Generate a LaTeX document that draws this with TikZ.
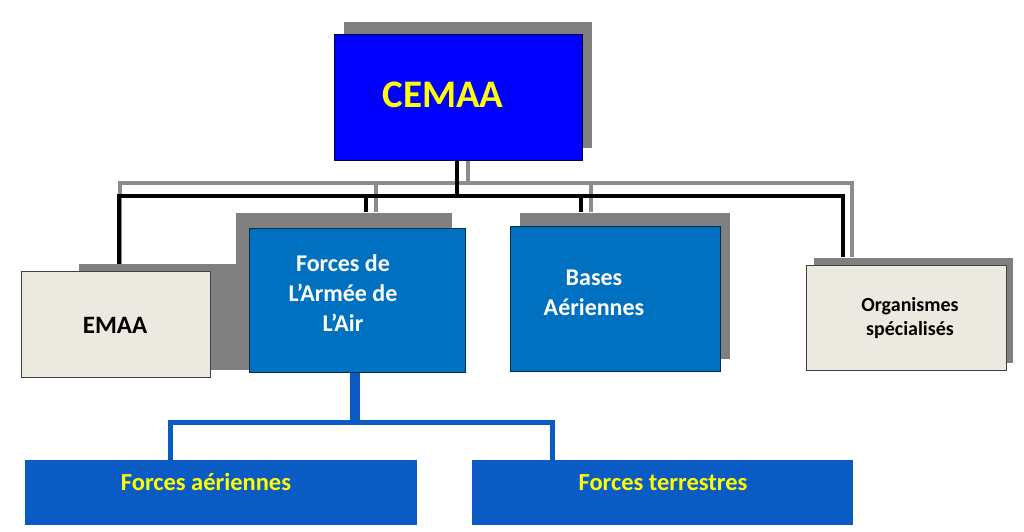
\documentclass[tikz,border=0pt]{standalone}
\usepackage{fontspec}
\setmainfont{Carlito}
\definecolor{cemaaBlue}{HTML}{0000FF}
\definecolor{midBlue}{HTML}{0070C0}
\definecolor{botBlue}{HTML}{0B5BC4}
\definecolor{beigeBox}{HTML}{ECEAE0}
\definecolor{shadowGray}{HTML}{808080}
\definecolor{lineGray}{HTML}{8C8C8C}
\definecolor{yel}{HTML}{FFFF00}
\begin{document}
\begin{tikzpicture}[x=1pt,y=-1pt,
  box/.style={rectangle,inner sep=0pt,anchor=center,line width=0.8pt},
  shadowbox/.style={box,fill=shadowGray,draw=none},
  lbl/.style={inner sep=0pt,anchor=center,font=\bfseries},
  blackconn/.style={draw=black,line width=4pt},
  grayconn/.style={draw=lineGray,line width=4pt},
  blueconn/.style={draw=botBlue,line width=5pt}]
\useasboundingbox (0,0) rectangle (1024,531);

% shadows
\node[shadowbox,minimum width=247.7pt,minimum height=126pt] (cemaaS) at (467.8,84.7) {};
\node[shadowbox,minimum width=189.3pt,minimum height=106pt] (emaaS) at (173.7,317) {};
\node[shadowbox,minimum width=216.3pt,minimum height=146.6pt] (faaS) at (344.2,286) {};
\node[shadowbox,minimum width=210pt,minimum height=146.6pt] (baS) at (625,286) {};
\node[shadowbox,minimum width=199.3pt,minimum height=105.6pt] (orgS) at (913.7,310.5) {};

% connector coordinates
\coordinate (gL) at (120,183);
\coordinate (gR) at (852,183);
\coordinate (gF) at (376,183);
\coordinate (gC) at (468,183);
\coordinate (gB) at (591,183);
\coordinate (bL) at (119,196);
\coordinate (bR) at (843,196);
\coordinate (bF) at (366,196);
\coordinate (bB) at (581,196);
\coordinate (bC) at (457,196);
\coordinate (uL) at (170,422.5);
\coordinate (uR) at (552,422.5);
\coordinate (uC) at (355,422.5);

% main boxes
\node[box,fill=cemaaBlue,draw=black!80!blue,minimum width=248pt,minimum height=126.7pt] (cemaa) at (458.3,97.3) {};
\node[box,fill=beigeBox,draw=black!75,minimum width=189pt,minimum height=106pt] (emaa) at (116.2,324.7) {};
\node[box,fill=midBlue,draw=black!60!midBlue,minimum width=216.4pt,minimum height=144.4pt] (faa) at (357.5,300.5) {};
\node[box,fill=midBlue,draw=black!60!midBlue,minimum width=210pt,minimum height=145.7pt] (ba) at (615.7,298.9) {};
\node[box,fill=beigeBox,draw=black!75,minimum width=199.3pt,minimum height=105pt] (org) at (906.3,318.2) {};
\node[box,fill=botBlue,minimum width=392pt,minimum height=65pt] (fa) at (221,492.5) {};
\node[box,fill=botBlue,minimum width=381pt,minimum height=65pt] (ft) at (662.5,492.5) {};

% gray connectors
\draw[grayconn] (gC |- cemaa.south) -- (gC);
\draw[grayconn] (gL |- emaaS.north) -- (gL) -- (gR) -- (gR |- orgS.north);
\draw[grayconn] (gF) -- (gF |- faaS.north);
\draw[grayconn] (gB) -- (gB |- baS.north);

% black connectors
\draw[blackconn] (bC |- cemaa.south) -- (bC);
\draw[blackconn] (bL |- emaaS.north) -- (bL) -- (bR) -- (bR |- orgS.north);
\draw[blackconn] (bF) -- (bF |- faaS.north);
\draw[blackconn] (bB) -- (bB |- baS.north);

% blue connectors
\draw[draw=botBlue,line width=10pt] (uC |- faa.south) -- (uC);
\draw[blueconn] (uL |- fa.north) -- (uL) -- (uR) -- (uR |- ft.north);

% texts
\node[lbl,text=yel,font=\bfseries\fontsize{39}{41}\selectfont] (cemaaT) at (443,95) {CEMAA};
\node[lbl,text=black,font=\bfseries\fontsize{25}{28}\selectfont] (emaaT) at (115,325) {EMAA};
\node[lbl,text=white,align=center,font=\bfseries\fontsize{24}{30}\selectfont] (faaT) at (343,293) {Forces de\\L’Armée de\\L’Air};
\node[lbl,text=white,align=center,font=\bfseries\fontsize{24}{30}\selectfont] (baT) at (594,293) {Bases\\Aériennes};
\node[lbl,text=black,align=center,font=\bfseries\fontsize{20}{24}\selectfont] (orgT) at (910,318) {Organismes\\spécialisés};
\node[lbl,anchor=base,text=yel,font=\bfseries\fontsize{24.5}{27}\selectfont] (faT) at (206,490) {Forces aériennes};
\node[lbl,anchor=base,text=yel,font=\bfseries\fontsize{24.5}{27}\selectfont] (ftT) at (663,490) {Forces terrestres};
\end{tikzpicture}
\end{document}
